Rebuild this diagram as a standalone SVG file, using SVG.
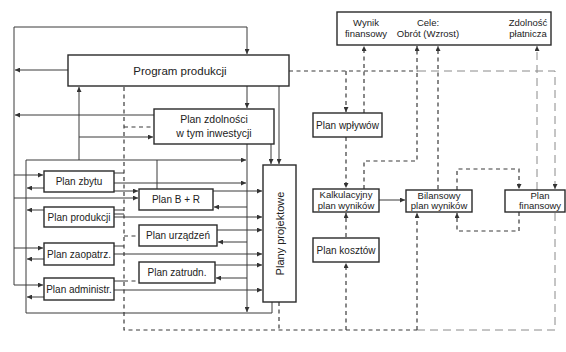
<svg xmlns="http://www.w3.org/2000/svg" width="566" height="352" viewBox="0 0 566 352">
<style>
.bx{fill:#fff;stroke:#2a2a2a;stroke-width:1.4}
.t{font-family:"Liberation Sans",Arial,sans-serif;font-size:10px;fill:#222;text-anchor:middle}
.s{fill:none;stroke:#3a3a3a;stroke-width:1}
.d{fill:none;stroke:#3a3a3a;stroke-width:1.2;stroke-dasharray:4 3.5}
.l{fill:none;stroke:#8a8a8a;stroke-width:1;stroke-dasharray:8 5}
</style>
<defs>
<marker id="a" viewBox="0 0 6 6" refX="6" refY="3" markerWidth="5" markerHeight="5" markerUnits="userSpaceOnUse" orient="auto"><path d="M0,0L6,3L0,6z" fill="#333"/></marker>
</defs>
<rect width="566" height="352" fill="#fff"/>
<g id="connectors">
<path class="s" d="M14,285V27H247V54" marker-end="url(#a)"/>
<path class="s" d="M68,70H15" marker-end="url(#a)"/>
<path class="s" d="M154,115H15" marker-end="url(#a)"/>
<path class="s" d="M79,160V87" marker-end="url(#a)"/>
<path class="s" d="M79,137H153" marker-end="url(#a)"/>
<path class="s" d="M247,86V108" marker-end="url(#a)"/>
<path class="s" d="M279,86V164" marker-end="url(#a)"/>
<path class="s" d="M271,144V164" marker-end="url(#a)"/>
<path class="s" d="M247,144V312" marker-end="url(#a)"/>
<path class="s" d="M26,160V313H272V302"/>
<path class="s" d="M26,160H246" marker-end="url(#a)"/>
<path class="s" d="M157,160V189"/>
<path class="s" d="M14,175H43" marker-end="url(#a)"/>
<path class="s" d="M14,248H43" marker-end="url(#a)"/>
<path class="s" d="M14,285H43" marker-end="url(#a)"/>
<path class="s" d="M44,188H27" marker-end="url(#a)"/>
<path class="s" d="M44,210H27" marker-end="url(#a)"/>
<path class="s" d="M44,259H27" marker-end="url(#a)"/>
<path class="s" d="M44,297H27" marker-end="url(#a)"/>
<path class="s" d="M14,198H138" marker-end="url(#a)"/>
<path class="s" d="M114,173H124M114,210H124M114,214H124M114,246H124M114,281H124"/>
<path class="s" d="M114,183H246" marker-end="url(#a)"/>
<path class="s" d="M114,191H138" marker-end="url(#a)"/>
<path class="s" d="M114,217H262" marker-end="url(#a)"/>
<path class="s" d="M114,254H262" marker-end="url(#a)"/>
<path class="s" d="M114,290H262" marker-end="url(#a)"/>
<path class="s" d="M213,191H262" marker-end="url(#a)"/>
<path class="s" d="M247,207H214" marker-end="url(#a)"/>
<path class="s" d="M217,230H262" marker-end="url(#a)"/>
<path class="s" d="M247,242H218" marker-end="url(#a)"/>
<path class="s" d="M215,265H262" marker-end="url(#a)"/>
<path class="s" d="M247,278H216" marker-end="url(#a)"/>
<path class="s" d="M379,200H405" marker-end="url(#a)"/>
<path class="d" d="M124,87V330H418"/>
<path class="d" d="M124,127H153"/>
<path class="d" d="M124,236H138"/>
<path class="d" d="M124,281H138"/>
<path class="d" d="M289,71H418"/>
<path class="l" d="M418,71H555V189" marker-end="url(#a)"/>
<path class="l" d="M555,213V330H418"/>
<path class="d" d="M279,302V330"/>
<path class="d" d="M346,71V112" marker-end="url(#a)"/>
<path class="d" d="M346,137V188" marker-end="url(#a)"/>
<path class="d" d="M346,237V213" marker-end="url(#a)"/>
<path class="d" d="M346,330V263" marker-end="url(#a)"/>
<path class="d" d="M364,113V46" marker-end="url(#a)"/>
<path class="d" d="M364,189V161H417V46" marker-end="url(#a)"/>
<path class="d" d="M438,189V46" marker-end="url(#a)"/>
<path class="l" d="M537,190V46" marker-end="url(#a)"/>
<path class="d" d="M417,330V213" marker-end="url(#a)"/>
<path class="d" d="M457,190V169H519V189" marker-end="url(#a)"/>
<path class="d" d="M519,212V231H457V213" marker-end="url(#a)"/>
</g>
<g id="cele">
<rect class="bx" x="337" y="12" width="214" height="33"/>
<text class="t" style="font-size:9.5px" x="366" y="26">Wynik</text>
<text class="t" style="font-size:9.5px" x="366" y="37">finansowy</text>
<text class="t" style="font-size:9.5px" x="428" y="26">Cele:</text>
<text class="t" style="font-size:9.5px" x="428" y="37">Obrót (Wzrost)</text>
<text class="t" style="font-size:9.5px" x="528" y="26">Zdolność</text>
<text class="t" style="font-size:9.5px" x="528" y="37">płatnicza</text>
</g>
<g id="program">
<rect class="bx" x="68" y="55" width="221" height="31"/>
<text class="t" style="font-size:11.5px" x="180" y="75">Program produkcji</text>
</g>
<g id="zdolnosci">
<rect class="bx" x="154" y="109" width="120" height="35"/>
<text class="t" style="font-size:10.5px" x="214" y="123">Plan zdolności</text>
<text class="t" style="font-size:10.5px" x="214" y="137">w tym inwestycji</text>
</g>
<g id="zbytu"><rect class="bx" x="44" y="171" width="70" height="21"/><text class="t" x="79" y="185">Plan zbytu</text></g>
<g id="produkcji"><rect class="bx" x="44" y="207" width="70" height="20"/><text class="t" x="79" y="221">Plan produkcji</text></g>
<g id="zaopatrz"><rect class="bx" x="44" y="243" width="70" height="22"/><text class="t" x="79" y="258">Plan zaopatrz.</text></g>
<g id="administr"><rect class="bx" x="44" y="278" width="70" height="22"/><text class="t" x="79" y="293">Plan administr.</text></g>
<g id="bir"><rect class="bx" x="139" y="189" width="74" height="21"/><text class="t" x="176" y="203">Plan B + R</text></g>
<g id="urzadzen"><rect class="bx" x="139" y="225" width="78" height="21"/><text class="t" x="178" y="239">Plan urządzeń</text></g>
<g id="zatrudn"><rect class="bx" x="139" y="262" width="76" height="21"/><text class="t" x="177" y="276">Plan zatrudn.</text></g>
<g id="projektowe">
<rect class="bx" x="263" y="165" width="33" height="137"/>
<text class="t" style="font-size:11px" x="279.5" y="237.5" transform="rotate(-90 279.5 233.5)">Plany projektowe</text>
</g>
<g id="wplywow"><rect class="bx" x="313" y="113" width="69" height="24"/><text class="t" x="347.5" y="128.5">Plan wpływów</text></g>
<g id="kalkulacyjny"><rect class="bx" x="313" y="189" width="66" height="23"/>
<text class="t" style="font-size:9.5px" x="346" y="198">Kalkulacyjny</text>
<text class="t" style="font-size:9.5px" x="346" y="209">plan wyników</text></g>
<g id="kosztow"><rect class="bx" x="313" y="238" width="66" height="24"/><text class="t" x="346" y="253.5">Plan kosztów</text></g>
<g id="bilansowy"><rect class="bx" x="406" y="190" width="66" height="22"/>
<text class="t" style="font-size:9.5px" x="439" y="198.5">Bilansowy</text>
<text class="t" style="font-size:9.5px" x="439" y="209">plan wyników</text></g>
<g id="finansowy"><rect class="bx" x="505" y="190" width="60" height="22"/>
<text class="t" style="font-size:9.5px" x="540" y="198.5">Plan</text>
<text class="t" style="font-size:9.5px" x="540" y="209">finansowy</text></g>
</svg>
